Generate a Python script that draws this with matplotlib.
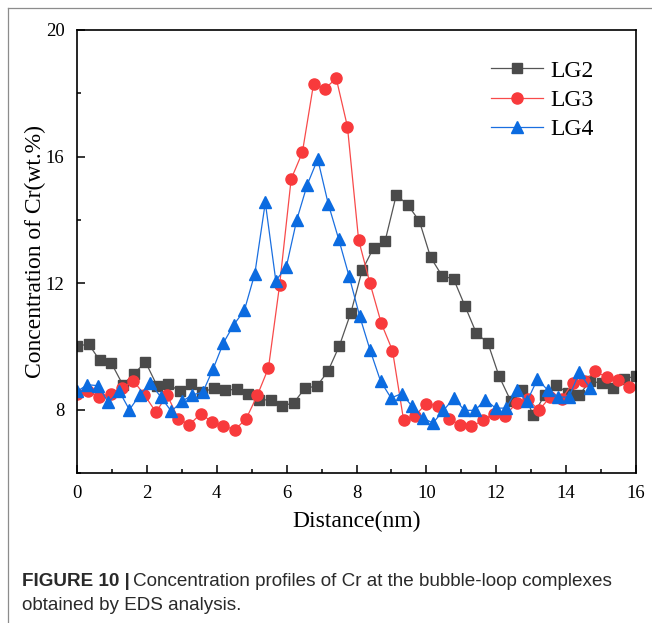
import matplotlib
matplotlib.use('Agg')
import matplotlib.pyplot as plt
from matplotlib.ticker import MultipleLocator
from matplotlib.lines import Line2D

# distances (nm) and Cr concentration (wt.%)
x_lg2 = [0.00, 0.33, 0.65, 0.98, 1.31, 1.63, 1.96, 2.29, 2.61, 2.94,
         3.27, 3.59, 3.92, 4.24, 4.57, 4.90, 5.22, 5.55, 5.88, 6.20,
         6.53, 6.86, 7.18, 7.51, 7.84, 8.16, 8.49, 8.82, 9.14, 9.47,
         9.80, 10.12, 10.45, 10.78, 11.10, 11.43, 11.76, 12.08, 12.41, 12.73,
         13.06, 13.39, 13.71, 14.04, 14.37, 14.69, 15.02, 15.35, 15.67, 16.00]
y_lg2 = [10.00, 10.08, 9.56, 9.48, 8.79, 9.13, 9.51, 8.76, 8.82, 8.58,
         8.81, 8.55, 8.69, 8.61, 8.65, 8.51, 8.30, 8.32, 8.13, 8.21,
         8.69, 8.74, 9.21, 10.02, 11.07, 12.40, 13.12, 13.34, 14.79, 14.47,
         13.96, 12.82, 12.23, 12.13, 11.29, 10.42, 10.11, 9.06, 8.29, 8.63,
         7.84, 8.47, 8.79, 8.53, 8.47, 8.90, 8.84, 8.70, 8.97, 9.07]

x_lg3 = [0.00, 0.32, 0.64, 0.97, 1.29, 1.61, 1.93, 2.26, 2.58, 2.90,
         3.22, 3.55, 3.87, 4.19, 4.51, 4.84, 5.16, 5.48, 5.80, 6.13,
         6.45, 6.77, 7.09, 7.42, 7.74, 8.06, 8.38, 8.71, 9.03, 9.35,
         9.67, 10.00, 10.32, 10.64, 10.96, 11.29, 11.61, 11.93, 12.25, 12.58,
         12.90, 13.22, 13.54, 13.87, 14.19, 14.51, 14.83, 15.16, 15.48, 15.80]
y_lg3 = [8.51, 8.58, 8.40, 8.51, 8.69, 8.92, 8.47, 7.92, 8.47, 7.71,
         7.53, 7.88, 7.60, 7.50, 7.36, 7.71, 8.45, 9.32, 11.95, 15.29,
         16.13, 18.29, 18.14, 18.47, 16.95, 13.37, 12.02, 10.73, 9.87, 7.66,
         7.81, 8.19, 8.13, 7.71, 7.53, 7.47, 7.66, 7.88, 7.81, 8.21,
         8.34, 7.98, 8.40, 8.34, 8.84, 8.90, 9.21, 9.03, 8.93, 8.72]

x_lg4 = [0.00, 0.30, 0.60, 0.90, 1.20, 1.50, 1.80, 2.10, 2.40, 2.70,
         3.00, 3.30, 3.60, 3.90, 4.19, 4.49, 4.79, 5.09, 5.39, 5.69,
         5.99, 6.29, 6.59, 6.89, 7.19, 7.49, 7.79, 8.09, 8.39, 8.69,
         8.99, 9.29, 9.59, 9.89, 10.19, 10.49, 10.79, 11.09, 11.39, 11.69,
         11.98, 12.28, 12.58, 12.88, 13.18, 13.48, 13.78, 14.08, 14.38, 14.68]
y_lg4 = [8.58, 8.79, 8.76, 8.23, 8.60, 8.00, 8.47, 8.84, 8.40, 7.95,
         8.26, 8.47, 8.55, 9.30, 10.11, 10.69, 11.14, 12.30, 14.55, 12.08,
         12.51, 14.00, 15.11, 15.92, 14.51, 13.39, 12.21, 10.96, 9.88, 8.90,
         8.37, 8.51, 8.11, 7.74, 7.58, 7.98, 8.37, 7.98, 7.98, 8.32,
         8.05, 8.05, 8.61, 8.26, 8.97, 8.61, 8.40, 8.40, 9.18, 8.69]

labels = ['LG2', 'LG3', 'LG4']

plt.rcParams['font.family'] = ['Liberation Serif', 'DejaVu Serif']

fig = plt.figure(figsize=(6.52, 6.23), dpi=100)
ax = fig.add_axes([77/652, 150/623, 559/652, 443/623])

ax.plot(x_lg2, y_lg2, color='#555555', lw=0.9, marker='s', ms=7.2,
        mfc='#4a4a4a', mec='#4a4a4a', label=labels[0])
ax.plot(x_lg3, y_lg3, color='#f84a4a', lw=0.9, marker='o', ms=8.0,
        mfc='#f83a3c', mec='#f83a3c', label=labels[1])
ax.plot(x_lg4, y_lg4, color='#1a6fe0', lw=0.9, marker='^', ms=8.6,
        mfc='#0b6be0', mec='#0b6be0', label=labels[2])

ax.set_xlim(0, 16)
ax.set_ylim(6, 20)
ax.xaxis.set_major_locator(MultipleLocator(2))
ax.xaxis.set_minor_locator(MultipleLocator(1))
ax.yaxis.set_minor_locator(MultipleLocator(2))
ax.set_yticks([8, 12, 16, 20])
ax.tick_params(which='both', direction='in', top=False, right=False,
               labelsize=13.5, width=1.1)
ax.tick_params(which='major', length=5.5, pad=9)
ax.tick_params(which='minor', length=3)
for s in ax.spines.values():
    s.set_linewidth(1.2)

ax.set_xlabel('Distance(nm)', fontsize=17, labelpad=6)
ax.set_ylabel('Concentration of Cr(wt.%)', fontsize=17, labelpad=0)

leg = ax.legend(loc='upper left', bbox_to_anchor=(0.741, 0.932), frameon=False,
                fontsize=17, handlelength=2.2, handletextpad=0.3,
                labelspacing=0.33, borderpad=0, borderaxespad=0)

# thin page frame
fig.add_artist(Line2D([8/652, 1], [1 - 8/623, 1 - 8/623], color='#8c8c8c', lw=0.9))
fig.add_artist(Line2D([8/652, 8/652], [0, 1 - 8/623], color='#8c8c8c', lw=0.9))

# caption
cap_font = ['Liberation Sans', 'DejaVu Sans']
t1 = fig.text(22/652, 1 - 581/623, 'FIGURE 10 |', family=cap_font, fontweight='bold',
              fontsize=13.6, va='center', color='#2a2a2a')
fig.canvas.draw()
bb = t1.get_window_extent(fig.canvas.get_renderer())
fig.text(bb.x1/fig.bbox.width + 3/652, 1 - 581/623,
         'Concentration profiles of Cr at the bubble-loop complexes',
         family=cap_font, fontsize=13.6, va='center', color='#2a2a2a')
fig.text(22/652, 1 - 606/623, 'obtained by EDS analysis.', family=cap_font,
         fontsize=13.6, va='center', color='#2a2a2a')

fig.savefig('out.png', dpi=100)
